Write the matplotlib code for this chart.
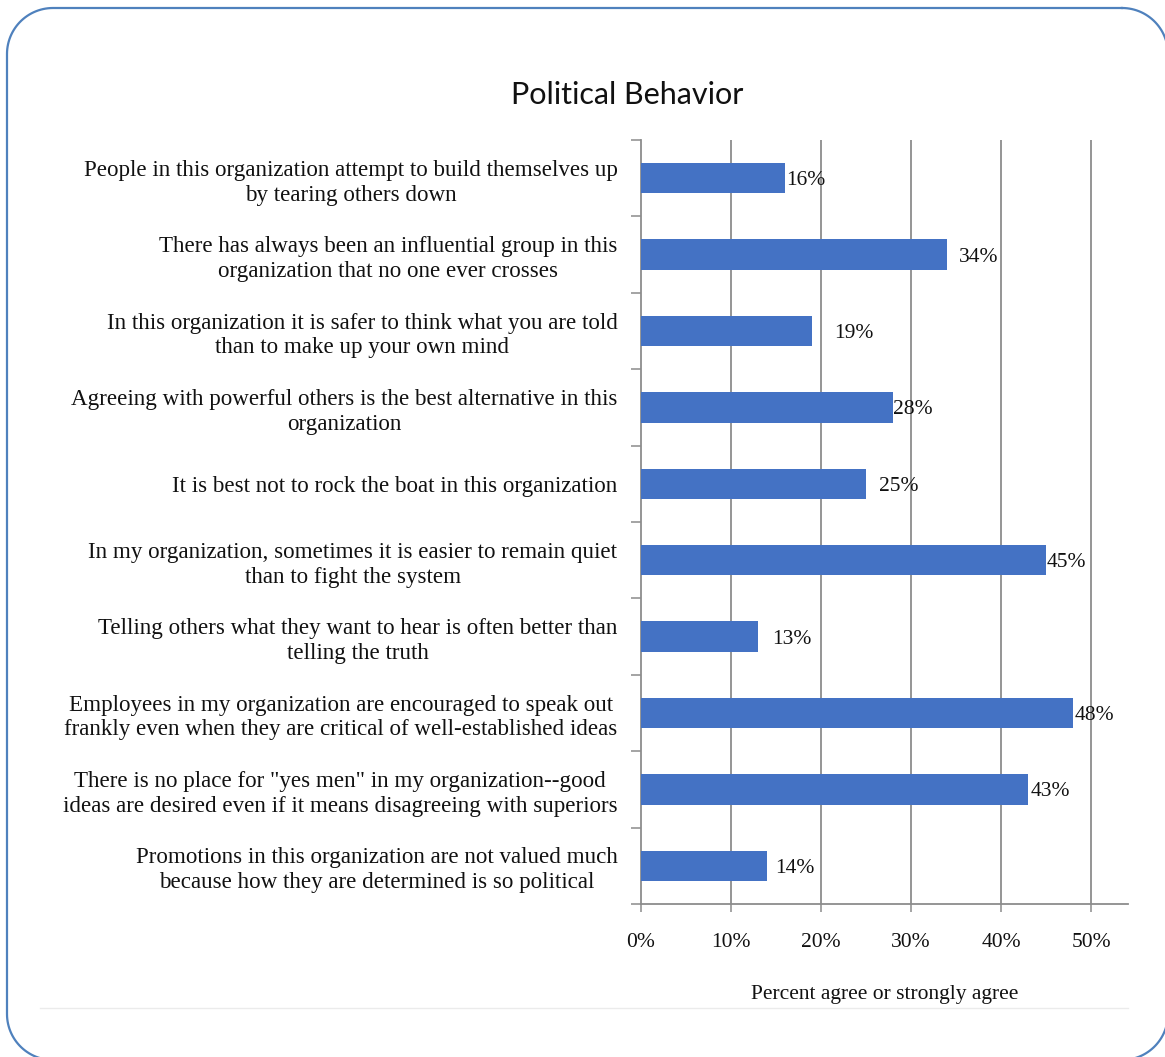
import numpy as np
import matplotlib
matplotlib.use("Agg")
import matplotlib.pyplot as plt
from matplotlib.ticker import FixedLocator, PercentFormatter


# survey statements, top to bottom
statements = [
    "People in this organization attempt to build themselves up\nby tearing others down",
    "There has always been an influential group in this\norganization that no one ever crosses",
    "In this organization it is safer to think what you are told\nthan to make up your own mind",
    "Agreeing with powerful others is the best alternative in this\norganization",
    "It is best not to rock the boat in this organization",
    "In my organization, sometimes it is easier to remain quiet\nthan to fight the system",
    "Telling others what they want to hear is often better than\ntelling the truth",
    "Employees in my organization are encouraged to speak out\nfrankly even when they are critical of well-established ideas",
    "There is no place for \"yes men\" in my organization--good\nideas are desired even if it means disagreeing with superiors",
    "Promotions in this organization are not valued much\nbecause how they are determined is so political",
]
pct_agree = [16, 34, 19, 28, 25, 45, 13, 48, 43, 14]
x_ticks = [0, 10, 20, 30, 40, 50]

# gap between bar end and its value label (pixels)
label_gap = [1, 12, 22, 0, 13, 1, 14, 2, 3, 8]

W, H = 1165, 1057
fig = plt.figure(figsize=(W / 100, H / 100), dpi=100)
fig.patch.set_facecolor("white")

# background layer in pixel units (y measured downward): border, faint rule, title
bg = fig.add_axes([0, 0, 1, 1], zorder=0)
bg.set_xlim(0, W)
bg.set_ylim(H, 0)
bg.axis("off")


def rounded_frame(x0, y0, x1, y1, r):
    xs, ys = [], []
    corners = [(x1 - r, y0 + r, -90, 0), (x1 - r, y1 - r, 0, 90),
               (x0 + r, y1 - r, 90, 180), (x0 + r, y0 + r, 180, 270)]
    for cx, cy, a0, a1 in corners:
        t = np.radians(np.linspace(a0, a1, 30))
        xs.extend(cx + r * np.cos(t))
        ys.extend(cy + r * np.sin(t))
    xs.append(xs[0])
    ys.append(ys[0])
    return xs, ys


fx, fy = rounded_frame(7, 8, 1168, 1060, 46)
bg.plot(fx, fy, color="#4F81BD", lw=1.6, clip_on=False)
bg.plot([40, 1128], [1008, 1008], color="#EBEBEB", lw=1.0)

bg.text(627, 95, "Political Behavior", ha="center", va="center",
        fontsize=22, family="Lato", color="#111111")

serif = "Liberation Serif"
fs_cat = 16.6
fs_val = 15.5
ax_left, ax_right, ax_top, ax_bot = 641, 1128, 140, 904
ax = fig.add_axes([ax_left / W, 1 - ax_bot / H,
                   (ax_right - ax_left) / W, (ax_bot - ax_top) / H], zorder=1)
ax.patch.set_alpha(0)

ypos = list(range(len(pct_agree)))
ax.barh(ypos, pct_agree, height=0.4, color="#4472C4", zorder=3)

ax.set_xlim(0, 54.1)
ax.set_ylim(len(pct_agree) - 0.5, -0.5)

for y, v, g in zip(ypos, pct_agree, label_gap):
    ax.annotate(f"{v}%", xy=(v, y), xytext=(g * 0.72, 0),
                textcoords="offset points", ha="left", va="center_baseline",
                fontsize=fs_val, family=serif, color="#111111", zorder=4)

# vertical gridlines
for t in x_ticks[1:]:
    ax.axvline(t, color="#8C8C8C", lw=1.3, zorder=1)

ax.set_xticks(x_ticks)
ax.xaxis.set_major_formatter(PercentFormatter(decimals=0))
ax.tick_params(axis="x", direction="out", length=6, width=1.1,
               color="#8C8C8C", pad=15, labelsize=fs_val)

ax.set_yticks(ypos)
ax.set_yticklabels(statements)
ax.yaxis.set_minor_locator(FixedLocator([i - 0.5 for i in range(len(pct_agree) + 1)]))
ax.tick_params(axis="y", which="major", length=0, pad=17, labelsize=fs_cat)
ax.tick_params(axis="y", which="minor", direction="out", length=7, width=1.1,
               color="#8C8C8C")
for lab in ax.get_yticklabels() + ax.get_xticklabels():
    lab.set_family(serif)
    lab.set_color("#111111")
for lab in ax.get_yticklabels():
    lab.set_multialignment("center")
    lab.set_linespacing(1.25)

for s in ["top", "right"]:
    ax.spines[s].set_visible(False)
for s in ["left", "bottom"]:
    ax.spines[s].set_color("#8C8C8C")
    ax.spines[s].set_linewidth(1.3)

ax.set_xlabel("Percent agree or strongly agree", family=serif, fontsize=fs_val,
              color="#111111", labelpad=24)

fig.savefig("out.png", dpi=100)
